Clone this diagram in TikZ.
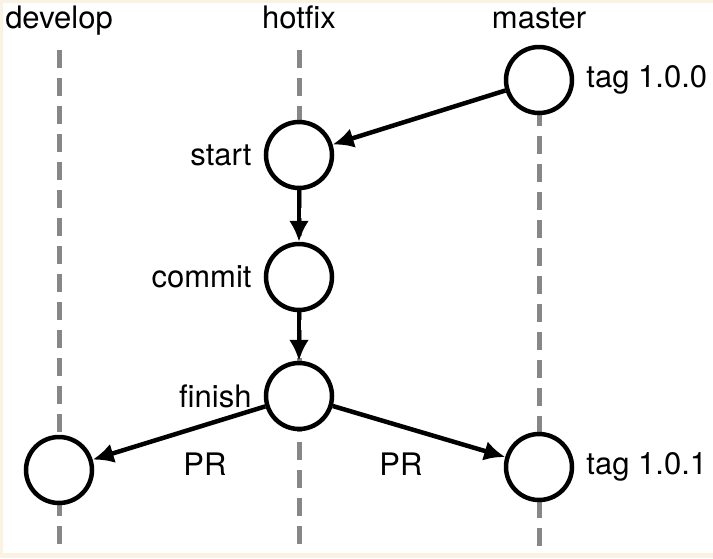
\documentclass[tikz,border=0pt]{standalone}
\usepackage{fontspec}
\setmainfont{TeX Gyre Heros}
\usetikzlibrary{arrows.meta}
\usetikzlibrary{positioning}

\definecolor{paper}{RGB}{250,243,227}
\definecolor{lanegray}{RGB}{135,135,135}

\begin{document}
\begin{tikzpicture}[
    x=1pt, y=-1pt,
    cnode/.style={circle, draw, line width=4.5pt, fill=white, minimum size=66pt, inner sep=0pt},
    lane/.style={lanegray, line width=5pt, dash pattern=on 18pt off 10pt},
    flow/.style={line width=4.5pt, -{Latex[length=21pt, width=20pt]}},
    pin/.style={font=\fontsize{31}{34}\selectfont, inner sep=0pt}
]
    \useasboundingbox (0, 0) rectangle (713, 558);
    \fill[paper] (0, 0) rectangle (713, 558);
    \fill[white] (3, 3) rectangle (713, 553);

    \foreach \branch/\x in {develop/59, hotfix/299, master/539} {
        \node[pin, anchor=base] (h\branch) at (\x, 28) {\branch};
    }
    \draw[lane] (59, 50) -- (59, 553);
    \draw[lane] (299, 50) -- (299, 553);
    \draw[lane] (539, 80) -- (539, 553);

    \node[cnode] (m0) at (539, 80) {};
    \node[cnode] (n1) at (299, 155) {};
    \node[cnode] (n2) at (299, 277) {};
    \node[cnode] (n3) at (299, 396) {};
    \node[cnode] (d0) at (59, 470) {};
    \node[cnode] (m1) at (539, 467) {};

    \node[pin, right=12pt of m0] (t0) {tag 1.0.0};
    \node[pin, left=12pt of n1] (l1) {start};
    \node[pin, left=12pt of n2] (l2) {commit};
    \node[pin, left=12pt of n3] (l3) {finish};
    \node[pin, right=12pt of m1] (t1) {tag 1.0.1};

    \draw[flow] (m0) -- (n1);
    \draw[flow] (n1) -- (n2);
    \draw[flow] (n2) -- (n3);
    \draw[flow] (n3) -- (d0);
    \draw[flow] (n3) -- (m1);

    \node[pin, anchor=base] (pr0) at (205, 475) {PR};
    \node[pin, anchor=base] (pr1) at (401, 475) {PR};
\end{tikzpicture}
\end{document}
